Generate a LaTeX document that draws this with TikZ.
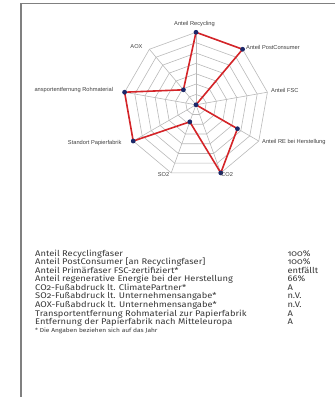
\documentclass[tikz,border=0pt]{standalone}
\usepackage{fontspec}
\setmainfont{Fira Sans}[Numbers=OldStyle,FakeStretch=1.14]
\newfontfamily\chartfont{Liberation Sans}
\usetikzlibrary{calc}
\tikzset{>=latex}
\definecolor{gridcol}{RGB}{185,185,185}
\definecolor{datacol}{RGB}{212,36,40}
\definecolor{markcol}{RGB}{28,40,105}
\colorlet{framecol}{black!50}
\colorlet{textcol}{black!78}
\tikzstyle{axislabel}=[font=\chartfont\fontsize{5.7}{6}\selectfont,text=black!75,inner sep=0pt]
\tikzstyle{datapoint}=[circle,fill=markcol,inner sep=0pt,minimum size=4.8pt]
\tikzstyle{tablerow}=[font=\fontsize{8.2}{9}\selectfont,text=textcol,anchor=base west,inner sep=0pt]
\begin{document}
\begin{tikzpicture}[x=1pt,y=1pt]
  \def\R{72.5}
  \def\Nr{7}
  \useasboundingbox (0,0) rectangle (335,397);
  \draw[framecol,line width=1.2pt] (21,0) -- (21,393.5) -- (336,393.5);
  \begin{scope}[shift={(196,292.2)}]
    \foreach \i [evaluate={\rr=\i*\R/\Nr;}] in {1,...,\Nr}{
      \draw[gridcol,line width=0.6pt] (90:\rr) \foreach \k in {1,...,8}{ -- ({90-40*\k}:\rr)} -- cycle;
    }
    \foreach \k in {0,...,8}{
      \draw[gridcol,line width=0.6pt] (0,0) -- ({90-40*\k}:\R);
    }
    \foreach \v [count=\k from 0] in {1,1,0,0.66,1,0.25,1,1,0.27}{
      \coordinate (v\k) at ({90-40*\k}:{\v*\R});
    }
    \draw[datacol,line width=1.6pt,line join=round]
      (v0) -- (v1) -- (v2) -- (v3) -- (v4) -- (v5) -- (v6) -- (v7) -- (v8) -- cycle;
    \foreach \k in {0,...,8}{
      \node[datapoint] (p\k) at (v\k) {};
    }
  \end{scope}
  \node[axislabel] (recyc) at (194.5,373) {Anteil Recycling};
  \node[axislabel,anchor=west] (postc) at (246,349.7) {Anteil PostConsumer};
  \node[axislabel,anchor=west] (fsc) at (271,307) {Anteil FSC};
  \node[axislabel,anchor=west] (rebh) at (262,254.7) {Anteil RE bei Herstellung};
  \node[axislabel,anchor=west] (cotwo) at (221,222) {CO2};
  \node[axislabel,anchor=east] (sotwo) at (169.5,222) {SO2};
  \node[axislabel,anchor=east] (stand) at (121.7,254.3) {Standort Papierfabrik};
  \node[axislabel,anchor=east] (trans) at (113.3,306.7) {ansportentfernung Rohmaterial};
  \node[axislabel,anchor=east] (aox) at (142.7,350) {AOX};
  \foreach \txt/\val [count=\i, evaluate={\yy=140.5-8.5*(\i-1);}] in {
      {Anteil Recyclingfaser}/{100\%},
      {Anteil PostConsumer [an Recyclingfaser]}/{100\%},
      {Anteil Primärfaser FSC-zertifiziert*}/{entfällt},
      {Anteil regenerative Energie bei der Herstellung}/{66\%},
      {CO2-Fußabdruck lt. ClimatePartner*}/{A},
      {SO2-Fußabdruck lt. Unternehmensangabe*}/{n.V.},
      {AOX-Fußabdruck lt. Unternehmensangabe*}/{n.V.},
      {Transportentfernung Rohmaterial zur Papierfabrik}/{A},
      {Entfernung der Papierfabrik nach Mitteleuropa}/{A}}{
    \node[tablerow] (row\i) at (35,\yy) {\txt};
    \node[tablerow] (val\i) at (287.3,\yy) {\val};
  }
  \node[tablerow,font=\fontsize{5.8}{6}\selectfont] (note) at (35,64.5) {* Die Angaben beziehen sich auf das Jahr};
\end{tikzpicture}
\end{document}
